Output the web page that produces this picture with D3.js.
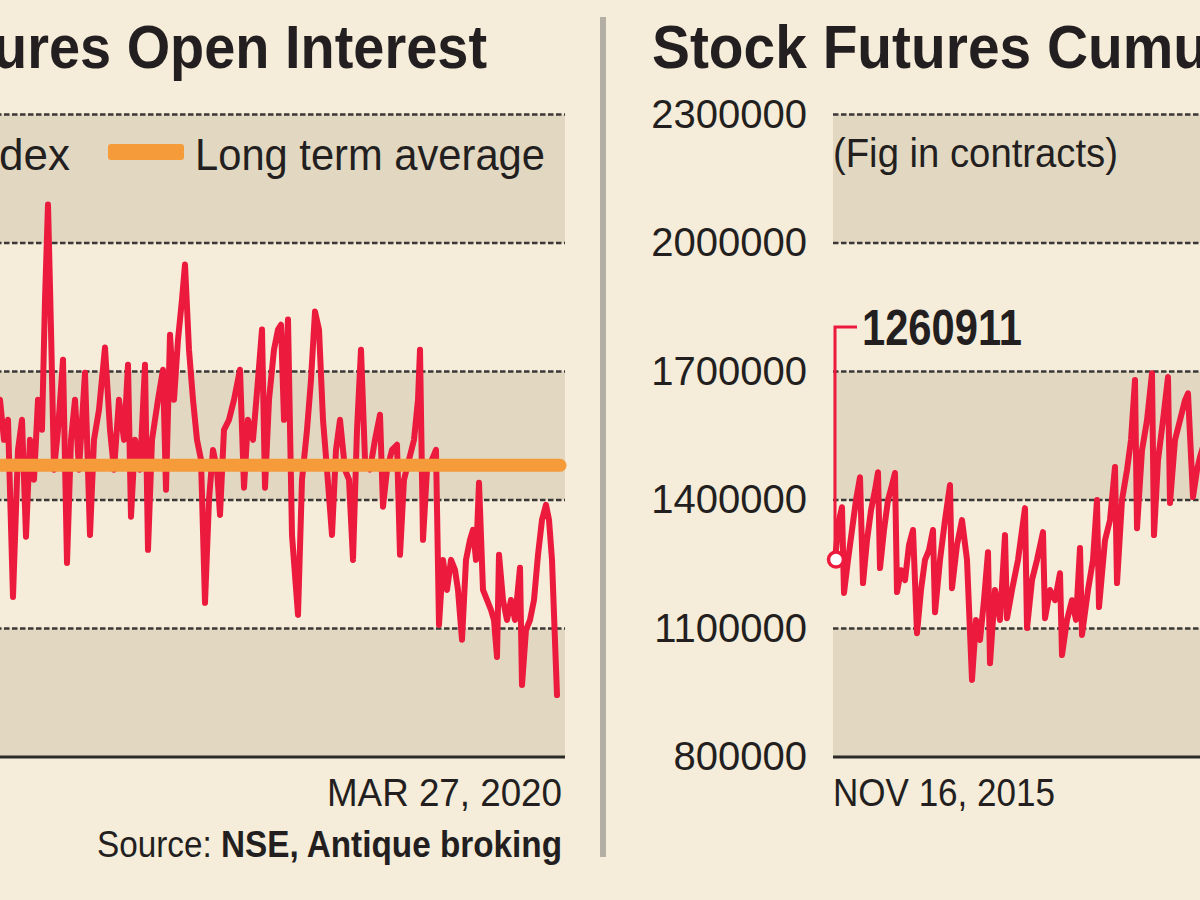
<!DOCTYPE html>
<html><head><meta charset="utf-8">
<script src="https://cdn.jsdelivr.net/npm/d3@7"></script>
<style>
html,body{margin:0;padding:0;background:#f5ecd9;}
svg{display:block;}
text{font-family:"Liberation Sans", Arial, sans-serif; fill:#231f20;}
</style></head><body>
<svg id="chart" width="1200" height="900"></svg>
<script>
// ---------- DATA ----------
// Left panel: index futures open interest (trading-session index, value)
const leftDay = [238,243,247,251,256,261,265,269,273,277,281,285,288,291,294,297,301,306,310,314,318,322,328,333,337,342,348,353,357,362,367,371,374,378,383,388,391,395,401,406,409,413,417,421,425,428,432,436,440,444,448,452,456,460,463,467,472,477,483,487,491,496,501,505,508,512,517,521,524,527,531,535,541,545,550,554,558,562,566,570,575,579,583,588,592,596,600,604,608,613,618,623,626,630,635,640,643,647,652,657,661,663,666,670,675,679,682,686,690,694,698,701,705,709,713,716,719,722,726,730,734,737,740,742,746,750,754,758,763,765,769,773,777,781,785,789,792,795,800];
const leftOI = [131.2,139.0,123.4,131.2,62.3,119.5,131.2,85.7,123.4,107.9,139.0,127.3,178.0,215.0,166.3,111.8,127.3,154.6,75.5,123.4,139.0,111.8,149.5,86.4,123.4,135.1,159.3,127.3,111.8,139.0,123.4,152.6,93.5,123.4,111.8,152.6,80.6,123.4,139.0,150.7,104.0,164.3,139.0,162.4,178.0,191.6,158.5,139.0,123.4,115.7,60.0,100.1,119.5,111.8,94.2,127.3,131.2,139.0,150.7,104.8,131.2,123.4,146.8,166.3,104.8,139.0,158.5,166.3,168.2,131.2,170.2,86.4,55.3,107.9,127.3,146.8,173.3,166.3,131.2,111.8,86.4,119.5,131.2,111.8,107.9,76.7,127.3,158.5,115.7,111.8,123.4,133.2,97.4,111.8,119.5,121.5,78.7,107.9,115.7,123.4,139.0,158.5,84.5,111.8,115.7,119.5,51.4,76.7,65.0,76.7,72.8,65.0,45.6,76.7,84.5,88.4,76.7,106.7,65.0,61.1,57.2,53.3,38.9,78.7,61.1,53.3,61.1,53.3,73.6,28.0,49.5,53.3,61.1,78.7,92.3,98.1,92.3,76.7,24.1];
const leftAverage = 113.5;
const leftTicks = [0,50,100,150,200,250];

// Right panel: stock futures cumulative open interest (contracts)
const rightDay = [0,4,7,9,13,17,21,25,28,32,36,40,43,45,49,53,57,60,62,66,70,74,78,82,86,90,94,98,100,105,110,115,117,122,127,132,137,141,145,149,153,155,160,165,170,172,177,183,190,192,197,202,208,210,215,220,225,227,232,237,241,245,247,253,258,262,264,270,275,280,282,287,292,296,300,302,307,312,317,319,323,328,333,335,340,345,350,353,358,362,365,370];
const rightOI = [1260911,1353000,1383000,1183000,1260000,1330000,1400000,1453000,1206000,1306000,1376000,1423000,1465000,1241000,1330000,1400000,1435000,1463000,1185000,1236000,1213000,1295000,1330000,1089000,1190000,1260000,1283000,1330000,1138000,1260000,1353000,1435000,1194000,1295000,1353000,1260000,980000,1120000,1073000,1166000,1278000,1019000,1190000,1120000,1318000,1124000,1190000,1260000,1381000,1101000,1213000,1260000,1325000,1124000,1190000,1166000,1229000,1038000,1120000,1166000,1120000,1288000,1085000,1190000,1260000,1400000,1150000,1306000,1353000,1477000,1206000,1400000,1470000,1540000,1680000,1334000,1516000,1586000,1696000,1318000,1493000,1586000,1687000,1393000,1540000,1586000,1633000,1649000,1407000,1470000,1500000,1540000];
const rightTicks = [800000,1100000,1400000,1700000,2000000,2300000];

const leftTitle = "Index Futures Open Interest";
const rightTitle = "Stock Futures Cumulative Open Interest";
const legendLabels = ["Index", "Long term average"];
const unitNote = "(Fig in contracts)";
const startLabel = "NOV 16, 2015";
const endLabel = "MAR 27, 2020";
const sourceLabel = ["Source: ", "NSE, Antique broking"];

// ---------- STYLE / LAYOUT ----------
const C = {bg:"#f5ecd9", band:"#e2d8c2", grid:"#3a3836", red:"#ec1a3d", orange:"#f59b3a", text:"#231f20", sep:"#b4afa4"};
const svg = d3.select("#chart");
svg.append("rect").attr("width",1200).attr("height",900).attr("fill",C.bg);

function fitSub(sel, sub, width){
  const node = sel.node();
  const full = node.textContent;
  const i = full.indexOf(sub);
  const subLen = node.getSubStringLength(i, sub.length);
  const fullLen = node.getComputedTextLength();
  sel.attr("textLength", fullLen*width/subLen).attr("lengthAdjust","spacingAndGlyphs");
}

const Y0 = 757, Y1 = 114.5;
const yL = d3.scaleLinear().domain([0,250]).range([Y0,Y1]);
const yR = d3.scaleLinear().domain([800000,2300000]).range([Y0,Y1]);
const xL = d3.scaleLinear().domain([0,800]).range([-243,557]);
const xR = d3.scaleLinear().domain([0,800]).range([835,1635]);

function panel(g, y, ticks, x0, x1){
  for(let i=0;i<ticks.length-1;i+=2){
    g.append("rect").attr("x",x0).attr("width",x1-x0)
      .attr("y",y(ticks[i+1])).attr("height",y(ticks[i])-y(ticks[i+1]))
      .attr("fill",C.band);
  }
  g.selectAll("line.grid").data(ticks.slice(1)).join("line").attr("class","grid")
    .attr("x1",x0).attr("x2",x1).attr("y1",d=>y(d)).attr("y2",d=>y(d))
    .attr("stroke",C.grid).attr("stroke-width",2.6).attr("stroke-dasharray","5.5,2.5");
  g.append("line").attr("x1",x0).attr("x2",x1).attr("y1",y(ticks[0])).attr("y2",y(ticks[0]))
    .attr("stroke","#2b2a29").attr("stroke-width",3);
}

// ---------- LEFT PANEL ----------
const gL = svg.append("g");
panel(gL, yL, leftTicks, -20, 565);

const lineL = d3.line().x(d=>xL(d[0])).y(d=>yL(d[1]));
gL.append("path").datum(d3.zip(leftDay,leftOI)).attr("d",lineL)
  .attr("fill","none").attr("stroke",C.red).attr("stroke-width",6)
  .attr("stroke-linejoin","round").attr("stroke-linecap","round");
gL.append("line").attr("x1",-20).attr("x2",xL(800)+3)
  .attr("y1",yL(leftAverage)).attr("y2",yL(leftAverage))
  .attr("stroke",C.orange).attr("stroke-width",13).attr("stroke-linecap","round");

// legend
gL.append("text").attr("x",70).attr("y",170).attr("text-anchor","end")
  .style("font-size","44px").text(legendLabels[0]);
gL.append("rect").attr("x",108).attr("y",144).attr("width",76).attr("height",16).attr("rx",3).attr("fill",C.orange);
const lg = gL.append("text").attr("x",195).attr("y",170).style("font-size","44px").text(legendLabels[1]);
fitSub(lg, legendLabels[1], 350);

// title
const tL = gL.append("text").attr("x",487).attr("y",68).attr("text-anchor","end")
  .style("font-size","62px").style("font-weight","bold").text(leftTitle);
fitSub(tL, "ures Open Interest", 494);

// end date + source
const ed = gL.append("text").attr("x",562).attr("y",806).attr("text-anchor","end")
  .style("font-size","38px").text(endLabel);
fitSub(ed, endLabel, 235);
const src = gL.append("text").attr("x",562).attr("y",857).attr("text-anchor","end").style("font-size","36px");
src.append("tspan").text(sourceLabel[0]);
src.append("tspan").style("font-weight","bold").text(sourceLabel[1]);
fitSub(src, sourceLabel[0]+sourceLabel[1], 465);

// separator
svg.append("rect").attr("x",600).attr("y",17).attr("width",6).attr("height",840).attr("fill",C.sep);

// ---------- RIGHT PANEL ----------
const gR = svg.append("g");
panel(gR, yR, rightTicks, 833, 1240);
gR.append("g").attr("transform","translate(833,0)")
  .call(d3.axisLeft(yR).tickValues(rightTicks).tickSize(0).tickPadding(26).tickFormat(d3.format("d")))
  .call(g=>g.select(".domain").remove())
  .selectAll("text").style("font-size","40px").style("font-family","'Liberation Sans', Arial, sans-serif").attr("fill","#2e2c2b");

const lineR = d3.line().x(d=>xR(d[0])).y(d=>yR(d[1]));
const dataR = d3.zip(rightDay,rightOI);
gR.append("path").datum(dataR).attr("d",lineR)
  .attr("fill","none").attr("stroke",C.red).attr("stroke-width",6)
  .attr("stroke-linejoin","round").attr("stroke-linecap","round");

// annotation for first value
const p0 = dataR[0];
const ax = xR(p0[0]), ay = yR(p0[1]);
gR.append("path").attr("d",`M${ax},${ay} V327 H${ax+22}`)
  .attr("fill","none").attr("stroke",C.red).attr("stroke-width",3);
gR.append("circle").attr("cx",ax+1).attr("cy",ay).attr("r",7.5)
  .attr("fill","#fff").attr("stroke",C.red).attr("stroke-width",3.5);
const ann = gR.append("text").attr("x",862).attr("y",345).style("font-size","50px").style("font-weight","bold")
  .text(d3.format("d")(p0[1]));
fitSub(ann, ann.text(), 160);

// unit note, title, start date
const fn = gR.append("text").attr("x",833).attr("y",167).style("font-size","40px").attr("fill","#2e2c2b").text(unitNote);
fitSub(fn, unitNote, 285);
const tR = gR.append("text").attr("x",652).attr("y",68)
  .style("font-size","62px").style("font-weight","bold").text(rightTitle);
fitSub(tR, "Stock Futures Cumu", 556);
const sd = gR.append("text").attr("x",833).attr("y",806).style("font-size","38px").text(startLabel);
fitSub(sd, startLabel, 222);
</script>
</body></html>
